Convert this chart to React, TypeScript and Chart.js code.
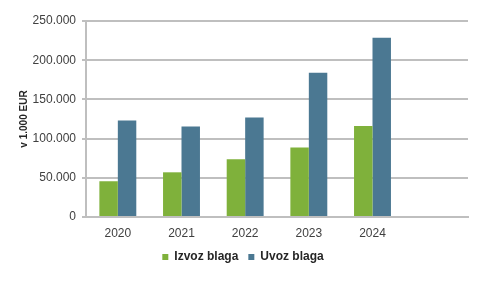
import React, { useEffect, useRef } from "react";
import { Chart, registerables } from "chart.js";

Chart.register(...registerables);

const categories = ["2020", "2021", "2022", "2023", "2024", ""];
const izvozBlaga = [45600, 57000, 73700, 88600, 116200, null];
const uvozBlaga = [123000, 115400, 127000, 184000, 228600, null];
const yTickMax = 250000;
const yTickStep = 50000;

const shiftLegend = {
  id: "shiftLegend",
  afterLayout(chart: any) {
    if (chart.legend) {
      chart.legend.left += 9;
      chart.legend.right += 9;
    }
  },
};

export default function App() {
  const ref = useRef<HTMLCanvasElement | null>(null);
  useEffect(() => {
    if (!ref.current) return;
    const chart = new Chart(ref.current, {
      type: "bar",
      data: {
        labels: categories,
        datasets: [
          {
            label: "Izvoz blaga",
            data: izvozBlaga,
            backgroundColor: "#7fb13b",
            categoryPercentage: 0.58,
            barPercentage: 1,
          },
          {
            label: "Uvoz blaga",
            data: uvozBlaga,
            backgroundColor: "#4b7892",
            categoryPercentage: 0.58,
            barPercentage: 1,
          },
        ],
      },
      plugins: [shiftLegend],
      options: {
        animation: false,
        responsive: false,
        maintainAspectRatio: false,
        layout: { padding: { top: 21, right: 13, bottom: 8, left: 0 } },
        plugins: {
          tooltip: { enabled: false },
          legend: {
            position: "bottom",
            labels: {
              boxWidth: 6,
              boxHeight: 6,
              padding: 10,
              color: "#262626",
              font: { family: "Liberation Sans, Arial", size: 12, weight: "bold" },
            },
          },
        },
        scales: {
          x: {
            grid: { display: false },
            border: { display: true, color: "#bfbfbf", width: 2 },
            ticks: {
              color: "#404040",
              padding: 1,
              font: { family: "Liberation Sans, Arial", size: 12 },
            },
            afterFit: (s: any) => {
              s.height = 24;
            },
          },
          y: {
            min: 0,
            max: yTickMax,
            grid: { color: "#bfbfbf", lineWidth: 2, tickLength: 4 },
            border: { display: true, color: "#bfbfbf", width: 2 },
            ticks: {
              stepSize: yTickStep,
              color: "#404040",
              padding: 6,
              font: { family: "Liberation Sans, Arial", size: 12 },
              callback: (v: any) =>
                v === 0 ? "0" : Number(v).toLocaleString("de-DE", { minimumFractionDigits: 0 }),
            },
            title: {
              display: true,
              text: "v 1.000 EUR",
              color: "#262626",
              padding: { top: 18, bottom: 0 },
              font: { family: "Liberation Sans, Arial", size: 10, weight: "bold" },
            },
            afterFit: (s: any) => {
              s.width = 86;
            },
          },
        },
      },
    });
    return () => chart.destroy();
  }, []);
  return (
    <div style={{ position: "absolute", left: 0, top: 0, width: 481, height: 281, background: "#fff" }}>
      <canvas ref={ref} width={481} height={281} style={{ width: 481, height: 281 }} />
    </div>
  );
}
